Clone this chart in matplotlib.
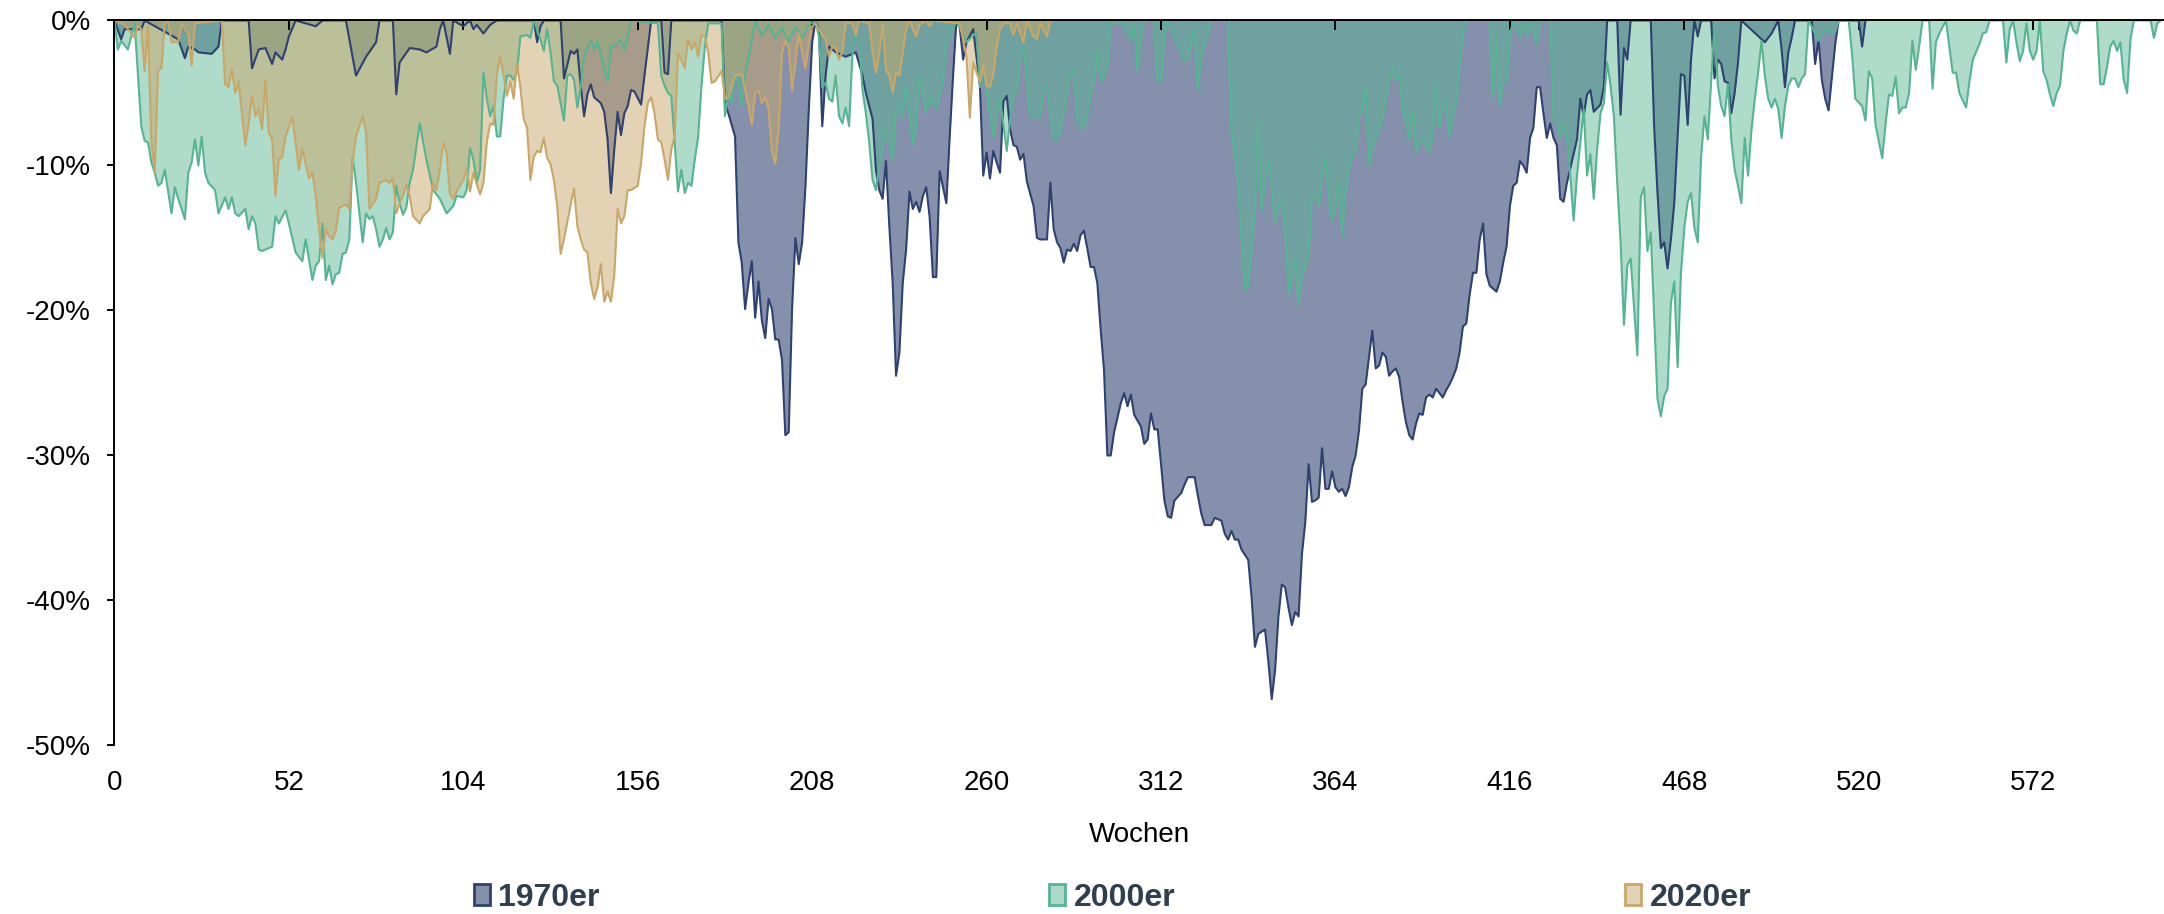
import matplotlib
matplotlib.use("Agg")
import matplotlib.pyplot as plt
from matplotlib.patches import Patch

plt.rcParams['font.family'] = ['Liberation Sans', 'DejaVu Sans']

# drawdown in % per week (week, value) pairs
weeks_1970 = [0, 2, 3, 8, 9, 19, 21, 22, 24, 25, 29, 31, 32, 40, 41, 43, 45, 47, 48, 50, 51, 52, 54, 60, 62, 69, 72, 75, 78, 79,
              83, 84, 85, 88, 91, 93, 96, 97, 98, 100, 101, 104, 106, 107, 108, 110, 112, 114, 125, 126, 127, 128, 133, 134, 136, 137, 138, 139, 140, 141,
              142, 143, 145, 146, 147, 148, 149, 150, 151, 152, 153, 154, 155, 157, 158, 160, 163, 164, 165, 166, 181, 182, 183, 185, 186, 187, 188, 189, 190, 191,
              192, 193, 194, 195, 196, 197, 198, 199, 200, 201, 202, 203, 204, 205, 206, 207, 208, 209, 210, 211, 212, 213, 215, 218, 221, 223, 224, 226, 227, 228,
              229, 230, 231, 232, 233, 234, 235, 236, 237, 238, 239, 240, 241, 242, 243, 244, 245, 246, 247, 248, 249, 250, 251, 252, 253, 254, 256, 258, 259, 260,
              261, 262, 263, 264, 265, 266, 267, 268, 269, 270, 271, 272, 274, 275, 276, 278, 279, 280, 281, 282, 283, 284, 285, 286, 287, 288, 289, 290, 291, 292,
              293, 294, 295, 296, 297, 298, 300, 301, 302, 303, 304, 306, 307, 308, 309, 310, 311, 312, 313, 314, 315, 316, 318, 319, 320, 322, 323, 324, 325, 327,
              328, 330, 331, 332, 333, 334, 335, 336, 338, 339, 340, 341, 343, 344, 345, 346, 347, 348, 349, 350, 351, 352, 353, 354, 355, 356, 357, 358, 359, 360,
              361, 362, 363, 364, 365, 366, 367, 368, 369, 370, 371, 372, 373, 374, 375, 376, 377, 378, 379, 380, 381, 382, 383, 384, 385, 386, 387, 388, 389, 390,
              391, 392, 393, 394, 395, 396, 397, 398, 399, 400, 401, 402, 403, 404, 405, 406, 407, 408, 409, 410, 412, 413, 414, 415, 416, 417, 418, 419, 420, 421,
              422, 423, 424, 425, 426, 427, 428, 429, 430, 431, 432, 433, 435, 436, 437, 438, 439, 440, 441, 443, 444, 445, 448, 449, 450, 451, 452, 458, 459, 460,
              461, 462, 463, 464, 465, 466, 467, 468, 469, 470, 471, 472, 473, 476, 477, 478, 479, 480, 481, 482, 483, 484, 485, 492, 494, 496, 497, 498, 499, 500,
              501, 506, 507, 508, 509, 510, 511, 512, 513, 514, 520, 521, 522]
dd_1970 = [0, -1.3, -0.6, -0.6, 0, -1.3, -2.6, -1.8, -2.0, -2.2, -2.3, -1.8, 0, 0, -3.3, -2.0, -1.9, -3.0, -2.2, -2.7, -2.0, -1.1, 0, -0.4, 0, 0, -3.8, -2.5, -1.5, 0,
           0, -5.1, -2.9, -1.9, -2.0, -2.2, -1.8, -0.6, 0, -2.3, 0, -0.4, 0, -0.6, -0.3, -0.9, -0.3, 0, 0, -1.5, -0.4, 0, 0, -4.0, -2.1, -2.3, -2.0, -4.5, -6.6, -5.1,
           -4.4, -5.3, -5.7, -6.3, -8.2, -11.9, -8.9, -6.3, -7.9, -6.4, -5.9, -4.8, -4.9, -5.8, -3.8, 0, 0, -3.6, -3.7, 0, 0, -5.7, -6.4, -8.0, -15.3, -16.7, -19.9, -18.1, -16.6, -20.5,
           -18.0, -20.7, -21.9, -19.2, -19.9, -22.0, -22.0, -23.4, -28.6, -28.4, -19.9, -15.0, -16.8, -15.3, -11.4, -6.1, -1.5, 0, -0.6, -7.3, -3.8, -1.8, -2.2, -2.5, -2.2, -3.8, -5.0, -6.8, -10.3, -11.7,
           -12.3, -9.7, -14.2, -18.1, -24.5, -22.9, -18.1, -15.8, -11.8, -13.0, -12.5, -13.2, -12.1, -11.5, -13.5, -17.7, -17.7, -10.4, -11.5, -12.6, -8.0, -3.8, 0, -0.5, -2.7, -1.5, -0.6, -4.5, -10.7, -9.1,
           -10.9, -9.0, -9.8, -10.5, -5.6, -5.2, -7.5, -8.6, -8.7, -9.6, -9.2, -11.1, -12.8, -15.0, -15.1, -15.1, -11.2, -14.4, -15.3, -15.7, -16.7, -15.8, -15.9, -15.4, -15.9, -14.8, -14.5, -15.7, -17.0, -17.0,
           -18.1, -21.3, -24.1, -30.0, -30.0, -28.4, -26.4, -25.7, -26.6, -25.8, -27.2, -28.0, -29.2, -28.9, -27.1, -28.2, -28.2, -30.6, -33.1, -34.2, -34.3, -33.1, -32.6, -32.0, -31.5, -31.5, -32.8, -34.0, -34.8, -34.8,
           -34.3, -34.5, -35.4, -35.8, -35.2, -35.8, -35.8, -36.5, -37.2, -39.8, -43.2, -42.3, -42.0, -44.2, -46.8, -44.8, -41.1, -38.9, -39.1, -40.5, -41.7, -40.8, -41.1, -36.8, -34.6, -30.6, -33.2, -33.1, -32.9, -29.5,
           -32.3, -32.3, -31.1, -32.2, -32.5, -32.3, -32.8, -32.2, -30.8, -30.0, -28.3, -25.4, -25.1, -23.2, -21.4, -24.0, -23.8, -22.9, -23.2, -24.5, -24.2, -24.0, -24.6, -26.3, -27.7, -28.6, -28.9, -27.8, -27.1, -27.2,
           -26.0, -25.8, -26.0, -25.4, -25.7, -26.0, -25.5, -25.1, -24.6, -24.0, -22.9, -21.1, -20.9, -18.9, -17.4, -17.4, -15.1, -14.0, -17.5, -18.3, -18.7, -18.0, -16.7, -15.6, -12.8, -11.4, -11.2, -9.7, -10.0, -10.5,
           -8.1, -7.4, -4.6, -4.6, -6.4, -8.1, -7.1, -8.1, -8.6, -12.3, -12.5, -11.2, -9.2, -8.2, -5.4, -6.6, -5.1, -4.8, -6.3, -5.8, -4.6, 0, 0, -6.5, -1.9, -2.7, 0, 0, -7.3, -11.9,
           -15.7, -15.3, -17.1, -15.1, -12.6, -8.0, -3.7, -3.8, -7.2, -2.7, 0, -1.1, 0, 0, -4.0, -2.7, -3.0, -4.2, -4.3, -6.4, -5.0, -2.9, 0, -1.5, -0.9, 0, -2.0, -4.6, -2.2, -1.2,
           0, 0, -3.0, -1.3, -4.1, -5.4, -6.2, -3.9, -1.6, 0, 0, -1.8, 0]

weeks_2000 = [0, 1, 2, 4, 6, 7, 8, 9, 10, 11, 12, 13, 14, 15, 17, 18, 19, 21, 22, 23, 24, 25, 26, 27, 28, 30, 31, 33, 34, 35,
              36, 37, 39, 40, 41, 42, 43, 44, 46, 47, 48, 49, 51, 52, 54, 55, 56, 57, 59, 60, 61, 62, 63, 64, 65, 66, 67, 68, 69, 70,
              71, 72, 74, 75, 76, 77, 78, 79, 80, 81, 82, 83, 84, 85, 86, 87, 88, 89, 91, 93, 95, 97, 99, 101, 102, 104, 105, 106, 107, 108,
              109, 110, 111, 112, 113, 114, 115, 116, 117, 118, 119, 120, 121, 123, 124, 125, 127, 128, 129, 130, 131, 132, 134, 135, 136, 137, 138, 139, 140, 141,
              142, 143, 144, 146, 147, 148, 149, 151, 152, 154, 162, 163, 164, 165, 166, 167, 168, 169, 170, 171, 172, 173, 174, 175, 176, 177, 181, 182, 183, 184,
              185, 186, 187, 188, 190, 191, 193, 195, 197, 199, 201, 203, 205, 207, 209, 210, 211, 212, 213, 214, 215, 216, 217, 218, 219, 220, 221, 222, 223, 224,
              225, 226, 227, 228, 230, 231, 232, 233, 234, 235, 236, 237, 238, 239, 240, 241, 242, 243, 244, 245, 246, 247, 248, 249, 250, 251, 254, 257, 258, 259,
              262, 263, 264, 265, 266, 267, 268, 269, 270, 271, 272, 273, 274, 276, 277, 278, 279, 280, 281, 282, 283, 284, 285, 286, 287, 288, 289, 290, 291, 292,
              293, 294, 295, 296, 297, 301, 302, 303, 304, 305, 306, 307, 310, 311, 312, 313, 314, 319, 320, 321, 322, 323, 324, 326, 327, 332, 333, 334, 335, 336,
              337, 338, 339, 340, 341, 342, 343, 344, 345, 346, 347, 348, 349, 350, 351, 352, 353, 354, 355, 356, 357, 358, 359, 360, 361, 362, 363, 364, 365, 366,
              367, 368, 369, 370, 371, 372, 373, 374, 375, 376, 378, 379, 380, 381, 382, 383, 384, 385, 386, 387, 388, 389, 391, 392, 393, 394, 395, 396, 397, 398,
              399, 400, 401, 402, 403, 410, 411, 412, 413, 414, 415, 416, 417, 419, 420, 421, 422, 424, 425, 428, 429, 430, 431, 432, 433, 434, 435, 436, 437, 438,
              439, 440, 441, 442, 443, 444, 445, 446, 447, 448, 449, 450, 451, 452, 453, 454, 455, 456, 457, 458, 459, 460, 461, 462, 463, 464, 465, 466, 467, 468,
              469, 470, 471, 472, 473, 474, 475, 476, 477, 478, 479, 480, 481, 482, 483, 484, 485, 486, 487, 488, 489, 490, 491, 492, 493, 494, 495, 496, 497, 498,
              499, 500, 501, 502, 503, 504, 505, 507, 508, 510, 512, 513, 514, 517, 518, 519, 521, 522, 523, 524, 525, 527, 528, 529, 530, 531, 532, 533, 534, 535,
              536, 537, 538, 539, 541, 542, 543, 544, 546, 548, 549, 550, 552, 553, 554, 556, 557, 558, 559, 563, 564, 565, 566, 567, 568, 569, 570, 571, 572, 573,
              574, 575, 576, 577, 578, 579, 580, 581, 582, 583, 584, 585, 586, 591, 592, 593, 594, 595, 596, 597, 598, 599, 600, 601, 602, 607, 608, 609, 610]
dd_2000 = [0, -2.0, -1.4, -2.0, -0.2, -3.8, -7.3, -8.3, -8.4, -9.8, -10.5, -11.4, -11.2, -10.3, -13.3, -11.5, -12.3, -13.7, -10.5, -9.8, -8.2, -10.0, -8.0, -10.5, -11.2, -11.7, -13.3, -12.2, -13.0, -12.2,
           -13.3, -13.5, -13.0, -14.4, -13.5, -14.0, -15.8, -15.9, -15.7, -15.6, -13.5, -14.0, -13.1, -14.0, -16.0, -16.3, -16.6, -15.1, -17.9, -16.9, -16.6, -14.0, -17.9, -16.9, -18.2, -17.5, -17.4, -16.1, -16.0, -15.1,
           -9.4, -11.2, -15.3, -13.3, -13.7, -13.5, -14.4, -15.6, -15.1, -14.3, -15.1, -14.6, -11.4, -12.6, -13.4, -12.9, -11.2, -10.3, -7.1, -9.6, -11.7, -12.3, -13.3, -12.8, -12.1, -12.2, -11.7, -8.8, -9.6, -11.2,
           -10.3, -3.6, -5.4, -6.6, -5.9, -8.0, -8.0, -5.4, -3.8, -3.8, -4.1, -3.6, -1.1, -1.0, -1.2, 0, -1.3, -2.1, -0.6, -2.2, -4.2, -4.5, -6.9, -3.8, -3.7, -4.1, -6.0, -4.6, -2.5, -1.9,
           -1.4, -2.0, -1.4, -3.4, -4.2, -1.8, -1.8, -1.3, -2.1, 0, -0.2, -3.8, -4.5, -5.0, -5.2, -8.4, -11.8, -10.3, -11.9, -11.2, -11.4, -9.6, -8.0, -4.5, -1.8, -0.2, -0.2, -6.6, -5.0, -5.7,
           -3.8, -4.2, -5.9, -3.8, -1.3, 0, -1.0, -0.3, -1.2, -0.5, -1.5, -0.4, -1.2, -0.3, 0, -1.1, -4.6, -4.3, -5.4, -5.6, -3.8, -6.6, -7.1, -6.0, -7.3, -2.3, -1.1, -1.4, -4.8, -6.4,
           -8.4, -11.0, -11.7, -10.0, -7.6, -8.4, -9.7, -6.1, -5.7, -6.7, -4.6, -6.4, -8.6, -7.3, -3.8, -5.1, -6.4, -5.3, -5.8, -6.1, -5.1, -4.3, -1.5, -1.3, -0.6, 0, -1.5, -0.8, -4.6, -3.3,
           -8.1, -6.4, -5.4, -7.2, -9.0, -6.8, -5.4, -4.8, -2.5, -2.0, -3.8, -6.6, -6.6, -6.7, -4.6, -4.5, -6.6, -8.1, -8.3, -7.6, -6.4, -4.9, -3.8, -3.4, -6.6, -7.4, -7.4, -6.5, -5.2, -4.2,
           -2.1, -4.2, -4.0, -3.1, -0.2, -0.2, -0.9, -1.4, -0.3, -3.5, -1.2, 0, 0, -4.2, -4.2, -1.1, 0, -2.8, -2.6, -1.7, -0.5, -4.8, -2.3, -1.1, 0, 0, -7.8, -9.1, -11.2, -15.2,
           -18.6, -18.3, -15.8, -12.9, -6.9, -13.2, -11.2, -9.5, -11.5, -14.0, -12.9, -12.5, -14.3, -18.9, -17.8, -16.5, -19.7, -17.4, -17.1, -16.2, -12.2, -12.0, -12.9, -10.6, -9.5, -12.3, -13.8, -12.8, -11.1, -14.9,
           -11.8, -10.3, -9.4, -9.2, -6.6, -6.3, -4.6, -10.0, -8.8, -8.2, -6.9, -5.4, -4.2, -3.2, -4.2, -3.7, -6.0, -7.1, -8.2, -6.2, -9.1, -8.3, -8.6, -9.1, -7.8, -4.3, -7.4, -5.8, -5.8, -8.0,
           -6.6, -5.7, -3.0, -1.1, 0, 0, -5.3, -1.0, -5.9, -4.3, -4.3, -1.0, 0, -1.2, -0.2, -1.1, 0, -1.7, 0, 0, -6.8, -7.1, -8.1, -7.1, -8.1, -10.7, -13.8, -10.7, -8.4, -6.1,
           -10.7, -9.2, -12.3, -8.9, -6.4, -5.7, -2.9, -4.5, -6.6, -11.2, -15.3, -21.0, -16.9, -16.4, -19.7, -23.1, -12.2, -11.5, -15.9, -14.6, -20.4, -26.1, -27.3, -25.9, -25.4, -19.5, -18.0, -23.9, -17.4, -14.3,
           -12.5, -11.9, -14.3, -15.3, -9.4, -6.6, -8.2, -4.2, -0.2, -4.5, -5.9, -6.6, -4.4, -8.2, -10.3, -11.4, -12.6, -8.1, -10.7, -7.6, -5.4, -3.6, -1.4, -3.8, -5.4, -6.0, -5.4, -6.1, -8.1, -5.9,
           -4.5, -4.0, -4.0, -4.6, -4.0, -3.7, 0, -0.9, -1.4, -0.6, -0.9, -0.8, 0, 0, -2.3, -5.4, -5.9, -6.9, -3.5, -4.0, -7.2, -9.5, -7.1, -5.1, -5.2, -3.9, -6.4, -6.0, -6.0, -5.0,
           -1.4, -3.4, -1.8, 0, 0, -4.7, -1.5, -0.9, 0, -3.6, -3.6, -5.0, -6.0, -4.2, -2.7, -1.6, -0.9, -0.8, 0, 0, -2.9, -0.6, 0, -1.5, -2.8, -2.1, -0.2, -2.1, -2.7, -2.1,
           0, -3.5, -4.1, -5.1, -5.9, -5.0, -4.5, -2.1, -0.9, 0, -0.7, -0.9, 0, 0, -4.4, -4.4, -3.2, -1.8, -1.4, -2.1, -1.5, -4.1, -5.0, -1.3, 0, 0, -1.2, -0.2, 0]

weeks_2020 = [0, 3, 6, 7, 8, 9, 10, 11, 12, 13, 14, 15, 16, 17, 19, 20, 21, 22, 23, 24, 32, 33, 34, 35, 36, 37, 39, 40, 41, 42,
              43, 44, 45, 46, 47, 48, 49, 50, 51, 53, 54, 55, 56, 58, 59, 60, 61, 62, 63, 64, 65, 66, 67, 69, 70, 71, 72, 74, 75, 76,
              78, 79, 81, 82, 83, 84, 85, 86, 87, 88, 89, 91, 92, 94, 95, 96, 97, 98, 99, 100, 101, 102, 104, 105, 106, 107, 108, 109, 110, 111,
              112, 113, 114, 115, 116, 117, 118, 119, 120, 121, 122, 123, 124, 125, 126, 127, 128, 129, 130, 131, 132, 133, 134, 136, 137, 138, 139, 140, 141, 142,
              143, 144, 145, 146, 147, 148, 149, 150, 151, 152, 153, 154, 156, 157, 158, 159, 160, 161, 162, 163, 164, 165, 166, 167, 168, 169, 170, 171, 172, 173,
              174, 175, 176, 177, 178, 179, 181, 182, 183, 185, 187, 188, 189, 190, 191, 192, 193, 194, 195, 196, 197, 198, 199, 200, 201, 202, 203, 204, 205, 206,
              207, 208, 209, 211, 212, 213, 214, 215, 216, 217, 218, 220, 221, 222, 225, 226, 227, 228, 229, 230, 231, 232, 233, 234, 235, 236, 237, 238, 239, 240,
              242, 243, 244, 252, 253, 254, 255, 256, 257, 258, 259, 260, 261, 262, 263, 264, 265, 267, 268, 269, 271, 272, 274, 275, 276, 278, 279]
dd_2020 = [0, -0.3, -1.2, -0.4, -0.6, -3.5, -0.4, -8.4, -10.5, -3.4, -3.3, -0.2, 0, -1.5, -1.5, -0.2, -0.6, -0.9, -3.1, -0.2, 0, -4.4, -4.6, -3.4, -5.0, -4.2, -8.6, -7.1, -5.2, -6.6,
           -6.1, -7.5, -4.1, -7.7, -8.2, -12.1, -9.6, -9.4, -8.0, -6.7, -8.4, -10.3, -8.9, -10.9, -10.5, -12.1, -14.4, -16.4, -14.4, -14.9, -15.1, -14.5, -12.9, -12.7, -13.0, -9.8, -8.0, -6.6, -7.7, -13.0,
           -12.3, -11.2, -11.0, -11.2, -10.9, -13.3, -12.6, -12.1, -11.3, -12.1, -13.5, -14.0, -13.5, -13.0, -11.2, -11.7, -10.3, -8.4, -9.1, -12.0, -12.3, -11.8, -11.0, -10.2, -11.8, -10.5, -11.3, -12.0, -11.2, -8.4,
           -7.1, -7.2, -3.7, -2.5, -3.8, -5.2, -4.2, -5.4, -2.9, -4.6, -6.8, -7.4, -11.0, -9.4, -9.0, -9.1, -8.1, -9.5, -9.9, -11.0, -12.8, -16.1, -15.1, -12.7, -11.6, -14.2, -15.1, -15.8, -16.0, -18.1,
           -19.2, -18.4, -16.8, -19.4, -18.7, -19.4, -17.6, -13.0, -14.0, -13.5, -11.7, -11.7, -11.4, -9.8, -7.3, -5.7, -5.3, -6.4, -8.2, -8.4, -9.6, -11.0, -8.9, -8.0, -2.3, -2.7, -3.3, -1.3, -2.0, -1.5,
           -2.5, -1.0, -1.1, -2.2, -4.3, -4.2, -3.5, -5.4, -5.3, -3.8, -3.7, -4.8, -5.9, -7.2, -5.0, -4.8, -5.7, -5.3, -6.1, -9.1, -9.9, -7.5, -2.2, -1.4, -1.8, -4.8, -2.9, -0.9, -2.2, -3.3,
           -1.5, -0.4, -0.2, -1.0, -1.3, -2.5, -1.8, -1.9, -2.7, -2.2, -0.2, -0.2, -1.0, 0, -0.2, -2.2, -3.6, -2.2, -0.3, -3.4, -3.8, -5.0, -3.6, -3.8, -2.2, -0.6, 0, -0.6, -1.1, -0.3,
           0, -0.4, 0, -0.2, -1.3, -2.5, -6.7, -2.9, -3.6, -4.2, -3.1, -4.5, -4.6, -3.7, -1.8, -0.6, -0.2, -0.2, -1.0, -0.2, -1.5, 0, -1.1, -1.3, -0.2, -1.1, 0]

series = [
    ("1970er", weeks_1970, dd_1970, "#2e4170", 0.58, "#8490a8"),
    ("2000er", weeks_2000, dd_2000, "#56b492", 0.48, "#acd9ca"),
    ("2020er", weeks_2020, dd_2020, "#c9a769", 0.5, "#e1d3b5"),
]
xticks = list(range(0, 573, 52))
yticks = [0, -10, -20, -30, -40, -50]

fig = plt.figure(figsize=(21.64, 9.14), dpi=100)
ax = fig.add_axes([0.0529, 0.1844, 0.9471, 0.7932])

handles = []
for name, w, d, col, a, legcol in series:
    ax.fill_between(w, d, 0, color=col, alpha=a, linewidth=0)
    ax.plot(w, d, color=col, linewidth=1.5)
    handles.append(Patch(facecolor=legcol, edgecolor=col, linewidth=2, label=name))

ax.set_xlim(0, 611)
ax.set_ylim(-50, 0)
ax.set_xticks(xticks)
ax.set_yticks(yticks)
ax.set_yticklabels([f"{t}%" for t in yticks])

ax.spines['right'].set_visible(False)
ax.spines['bottom'].set_visible(False)
ax.spines['top'].set_linewidth(1.4)
ax.spines['left'].set_linewidth(1.4)
ax.tick_params(axis='x', top=True, bottom=False, labeltop=False, labelbottom=True,
               direction='in', length=7, width=1.4, pad=18, labelsize=20)
ax.tick_params(axis='y', direction='out', length=5, width=1.4, pad=12, labelsize=20)

ax.set_xlabel("Wochen", fontsize=20)
ax.xaxis.set_label_coords(0.5, -0.105)

fig.legend(handles=handles, loc='center', bbox_to_anchor=(0.514, 0.0175), ncol=3, frameon=False,
           prop={'weight': 'bold', 'size': 23}, labelcolor='#2f3f50',
           handlelength=0.5, handleheight=0.65, handletextpad=0.25, columnspacing=14.1)

fig.savefig("out.png", dpi=100)
